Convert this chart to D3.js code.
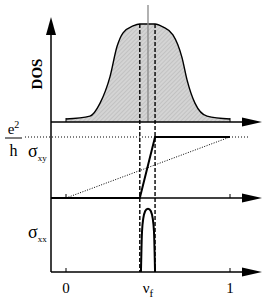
<!DOCTYPE html>
<html>
<head>
<meta charset="utf-8">
<script src="https://cdn.jsdelivr.net/npm/d3@7"></script>
<style>
  body { margin: 0; background: #fff; }
  svg { display: block; }
</style>
</head>
<body>
<svg class="chart"></svg>
<script>
// filling factor positions and their labels
const nuTicks = [0, 0.5, 1];
const nuLabels = ["0", "ν", "1"];
const nuFermi = 0.5;
const nuEdges = [0.45, 0.543];

// density of states (normalised)
const dosNu  = [0, 0.146, 0.207, 0.268, 0.311, 0.348, 0.409, 0.45, 0.543, 0.591, 0.652, 0.707, 0.738, 0.787, 0.86, 1];
const dosVal = [0.03, 0.06, 0.19, 0.46, 0.77, 0.91, 0.98, 1, 1, 0.97, 0.89, 0.66, 0.43, 0.19, 0.06, 0.03];

// hall conductivity (units of e^2/h)
const xyNu  = [-0.091, 0.45, 0.543, 1];
const xyVal = [0, 0, 1, 1];
const classicNu  = [0, 1];
const classicVal = [0, 1];

// longitudinal conductivity (normalised)
const xxNu  = [0.457, 0.46, 0.463, 0.47, 0.482, 0.5, 0.518, 0.53, 0.537, 0.54, 0.543];
const xxVal = [0, 0.34, 0.66, 0.84, 0.97, 1, 0.97, 0.84, 0.66, 0.34, 0];

const width = 266, height = 303;
const axisX = 51, arrowEnd = 262;
const serif = "'Liberation Serif', 'Times New Roman', 'DejaVu Serif', serif";

const svg = d3.select(".chart").attr("width", width).attr("height", height)
    .attr("font-family", serif);

const x = d3.scaleLinear().domain([0, 1]).range([66, 230]);
const yDos = d3.scaleLinear().domain([0, 1]).range([122, 24]);
const yXY  = d3.scaleLinear().domain([0, 1]).range([198, 137]);
const yXX  = d3.scaleLinear().domain([0, 1]).range([272, 208]);

// hatch pattern for the DOS area
const defs = svg.append("defs");
const pat = defs.append("pattern")
    .attr("id", "hatch")
    .attr("patternUnits", "userSpaceOnUse")
    .attr("width", 3).attr("height", 3)
    .attr("patternTransform", "rotate(45)");
pat.append("rect").attr("width", 3).attr("height", 3).attr("fill", "#d4d4d4");
pat.append("line").attr("x1", 0).attr("y1", 0).attr("x2", 0).attr("y2", 3)
   .attr("stroke", "#b0b0b0").attr("stroke-width", 1);

const dos = dosNu.map((n, i) => [n, dosVal[i]]);

svg.append("path")
   .datum(dos)
   .attr("fill", "url(#hatch)")
   .attr("d", d3.area().x(d => x(d[0])).y0(yDos(0)).y1(d => yDos(d[1])).curve(d3.curveMonotoneX));

svg.append("path")
   .datum(dos)
   .attr("fill", "none")
   .attr("stroke", "#000")
   .attr("stroke-width", 1.4)
   .attr("d", d3.line().x(d => x(d[0])).y(d => yDos(d[1])).curve(d3.curveMonotoneX));

// Fermi level (gray line)
svg.append("line")
   .attr("x1", x(nuFermi)).attr("x2", x(nuFermi))
   .attr("y1", 5).attr("y2", yDos(0))
   .attr("stroke", "#888").attr("stroke-width", 1.3);

// dashed edges of extended states
svg.selectAll(".edge")
   .data(nuEdges)
   .enter().append("line")
   .attr("class", "edge")
   .attr("x1", d => x(d)).attr("x2", d => x(d))
   .attr("y1", yDos(1)).attr("y2", yXX(0))
   .attr("stroke", "#000").attr("stroke-width", 1.4)
   .attr("stroke-dasharray", "4,2");

// e^2/h dotted level
svg.append("line")
   .attr("x1", 25).attr("x2", 248)
   .attr("y1", yXY(1)).attr("y2", yXY(1))
   .attr("stroke", "#000").attr("stroke-width", 1)
   .attr("stroke-dasharray", "1,2");

// classical hall line
svg.append("path")
   .datum(classicNu.map((n, i) => [n, classicVal[i]]))
   .attr("fill", "none")
   .attr("stroke", "#000").attr("stroke-width", 1)
   .attr("stroke-dasharray", "1,1.5")
   .attr("d", d3.line().x(d => x(d[0])).y(d => yXY(d[1])));

// quantised hall step
svg.append("path")
   .datum(xyNu.map((n, i) => [n, xyVal[i]]))
   .attr("fill", "none")
   .attr("stroke", "#000").attr("stroke-width", 2)
   .attr("d", d3.line().x(d => x(d[0])).y(d => yXY(d[1])));

// sigma_xx peak
svg.append("path")
   .datum(xxNu.map((n, i) => [n, xxVal[i]]))
   .attr("fill", "none")
   .attr("stroke", "#000").attr("stroke-width", 2)
   .attr("d", d3.line().x(d => x(d[0])).y(d => yXX(d[1])).curve(d3.curveBasis));

// axes with arrowheads
const ax = svg.append("g").attr("stroke", "#000").attr("stroke-width", 1.5);
ax.append("line").attr("x1", axisX).attr("x2", axisX).attr("y1", 30).attr("y2", yXX(0));
svg.append("path").attr("d", `M${axisX},17L${axisX - 5},35L${axisX + 5},35Z`).attr("fill", "#000");

[yDos, yXY, yXX].forEach(y => {
  ax.append("line").attr("x1", axisX).attr("x2", arrowEnd - 10).attr("y1", y(0)).attr("y2", y(0));
  svg.append("path")
     .attr("d", `M${arrowEnd},${y(0)}L${arrowEnd - 20},${y(0) - 4.5}L${arrowEnd - 20},${y(0) + 4.5}Z`)
     .attr("fill", "#000");
  // small ticks at 0 and 1
  ax.selectAll(null)
    .data([0, 1])
    .enter().append("line")
    .attr("stroke-width", 1)
    .attr("x1", d => x(d)).attr("x2", d => x(d))
    .attr("y1", y(0)).attr("y2", y(0) - 4);
});

// tick labels
const lab = svg.selectAll(".tl")
   .data(nuTicks)
   .enter().append("text")
   .attr("class", "tl")
   .attr("x", d => x(d))
   .attr("y", 293)
   .attr("text-anchor", "middle")
   .attr("font-size", 15);
lab.append("tspan").text((d, i) => nuLabels[i]);
lab.filter(d => d === nuFermi).append("tspan")
   .attr("dy", 4).attr("font-size", 11).text("f");

// DOS label
svg.append("text")
   .attr("transform", "translate(42,74) rotate(-90)")
   .attr("text-anchor", "middle")
   .attr("font-size", 15)
   .attr("font-weight", "bold")
   .text("DOS");

// e^2/h fraction
svg.append("text").attr("x", 13.5).attr("y", 134).attr("text-anchor", "middle")
   .attr("font-size", 15)
   .call(t => { t.append("tspan").text("e"); t.append("tspan").attr("dy", -6).attr("font-size", 10).text("2"); });
svg.append("line").attr("x1", 5).attr("x2", 22).attr("y1", 138).attr("y2", 138)
   .attr("stroke", "#000").attr("stroke-width", 1);
svg.append("text").attr("x", 13.5).attr("y", 156).attr("text-anchor", "middle")
   .attr("font-size", 16).text("h");

// sigma labels
svg.append("text").attr("x", 28).attr("y", 157).attr("font-size", 18)
   .call(t => { t.append("tspan").text("σ"); t.append("tspan").attr("dy", 4).attr("font-size", 9).text("xy"); });
svg.append("text").attr("x", 28).attr("y", 238).attr("font-size", 18)
   .call(t => { t.append("tspan").text("σ"); t.append("tspan").attr("dy", 4).attr("font-size", 9).text("xx"); });
</script>
</body>
</html>
